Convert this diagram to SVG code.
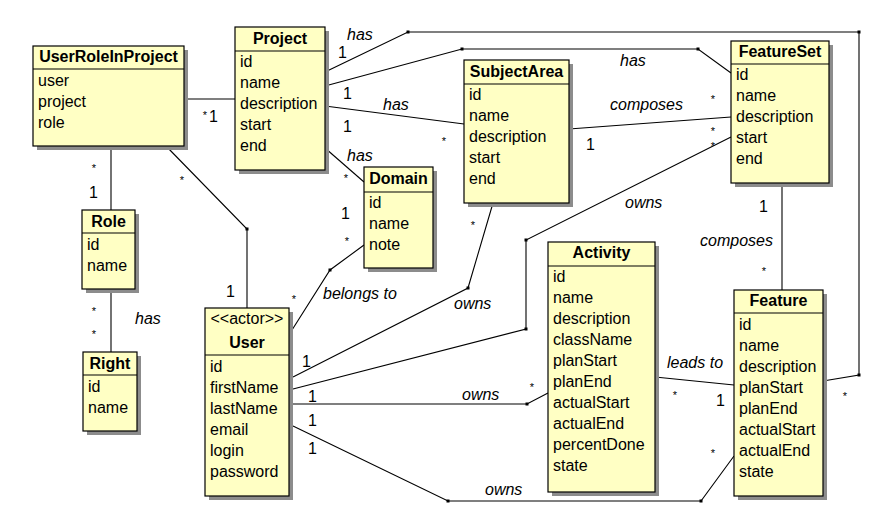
<svg xmlns="http://www.w3.org/2000/svg" width="890" height="524" viewBox="0 0 890 524">
<style>
text{font-family:"Liberation Sans",Arial,sans-serif;font-size:16px;fill:#000}
.t{font-weight:bold;text-anchor:middle}
.l{font-style:italic}
.st{font-size:11px;text-anchor:middle}
.box{fill:#ffffc4;stroke:#000;stroke-width:1.2}
.sh{fill:#8c8c8c}
.hd{stroke:#000;stroke-width:1.2}
.c{fill:none;stroke:#000;stroke-width:1.1}
.d{fill:#000}
</style>
<rect width="890" height="524" fill="#fff"/>
<g id="connectors">
<path class="c" d="M184,99 L235,99"/>
<path class="c" d="M111,146 L111,210"/>
<path class="c" d="M111,289 L111,352"/>
<path class="c" d="M166,146 L247,229 L247,308"/>
<path class="c" d="M325,72 L408,32 L859,32 L859,375 L823,381"/>
<path class="c" d="M325,86 L462,49 L698,49 L731,73"/>
<path class="c" d="M325,106 L464,124"/>
<path class="c" d="M325,148 L364,182"/>
<path class="c" d="M569,129 L731,117"/>
<path class="c" d="M731,137 L526,240 L526,329 L293,389"/>
<path class="c" d="M493,203 L468,288 L293,377"/>
<path class="c" d="M293,404 L527,404 L548,393"/>
<path class="c" d="M293,426 L448,501 L701,501 L734,456"/>
<path class="c" d="M364,245 L330,270 L292,330"/>
<path class="c" d="M782,183 L782,290"/>
<path class="c" d="M655,377 L734,385"/>
<g class="d">
<rect x="245.5" y="227.5" width="3" height="3"/>
<rect x="406.5" y="30.5" width="3" height="3"/>
<rect x="857.5" y="30.5" width="3" height="3"/>
<rect x="857.5" y="373.5" width="3" height="3"/>
<rect x="460.5" y="47.5" width="3" height="3"/>
<rect x="696.5" y="47.5" width="3" height="3"/>
<rect x="524.5" y="238.5" width="3" height="3"/>
<rect x="524.5" y="327.5" width="3" height="3"/>
<rect x="466.5" y="286.5" width="3" height="3"/>
<rect x="525.5" y="402.5" width="3" height="3"/>
<rect x="446.5" y="499.5" width="3" height="3"/>
<rect x="699.5" y="499.5" width="3" height="3"/>
<rect x="328.5" y="268.5" width="3" height="3"/>
</g>
<text class="st" x="205" y="119">*</text><text x="209" y="122">1</text>
<text class="st" x="94" y="172">*</text><text x="89" y="198">1</text>
<text class="st" x="94" y="315">*</text><text class="st" x="94" y="338">*</text><text class="l" x="135" y="324">has</text>
<text class="st" x="182" y="184">*</text><text x="226" y="297">1</text>
<text class="l" x="347" y="40">has</text><text x="338" y="58">1</text>
<text class="l" x="620" y="66">has</text><text x="343" y="99">1</text>
<text class="l" x="383" y="110">has</text><text x="343" y="132">1</text><text class="st" x="444" y="145">*</text>
<text class="l" x="347" y="161">has</text><text class="st" x="346" y="182">*</text>
<text class="l" x="610" y="110">composes</text><text x="586" y="150">1</text><text class="st" x="713" y="103">*</text>
<text class="st" x="713" y="135">*</text><text class="st" x="713" y="150">*</text>
<text class="l" x="625" y="208">owns</text>
<text class="l" x="454" y="309">owns</text><text class="st" x="473" y="229">*</text>
<text x="302" y="367">1</text>
<text x="308" y="402">1</text><text class="l" x="462" y="400">owns</text><text class="st" x="532" y="391">*</text>
<text x="308" y="426">1</text><text x="308" y="454">1</text>
<text class="l" x="485" y="495">owns</text><text class="st" x="713" y="457">*</text>
<text class="l" x="323" y="299">belongs to</text><text x="341" y="219">1</text><text class="st" x="347" y="245">*</text><text class="st" x="294" y="303">*</text>
<text x="759" y="212">1</text><text class="l" x="700" y="246">composes</text><text class="st" x="764" y="275">*</text>
<text class="l" x="667" y="368">leads to</text><text class="st" x="675" y="399">*</text><text x="716" y="406">1</text>
<text class="st" x="845" y="400">*</text>
</g>
<g id="UserRoleInProject">
<rect class="sh" x="37" y="50" width="151" height="100"/>
<rect class="box" x="33" y="46" width="151" height="100"/>
<line class="hd" x1="33" y1="69" x2="184" y2="69"/>
<text class="t" x="108.5" y="62">UserRoleInProject</text>
<text x="38" y="86">user</text><text x="38" y="107">project</text><text x="38" y="128">role</text>
</g>
<g id="Project">
<rect class="sh" x="239" y="31" width="90" height="143"/>
<rect class="box" x="235" y="27" width="90" height="143"/>
<line class="hd" x1="235" y1="51" x2="325" y2="51"/>
<text class="t" x="280" y="44">Project</text>
<text x="240" y="67">id</text><text x="240" y="88">name</text><text x="240" y="109">description</text><text x="240" y="130">start</text><text x="240" y="151">end</text>
</g>
<g id="SubjectArea">
<rect class="sh" x="468" y="64" width="105" height="143"/>
<rect class="box" x="464" y="60" width="105" height="143"/>
<line class="hd" x1="464" y1="84" x2="569" y2="84"/>
<text class="t" x="516.5" y="77">SubjectArea</text>
<text x="469" y="100">id</text><text x="469" y="121">name</text><text x="469" y="142">description</text><text x="469" y="163">start</text><text x="469" y="184">end</text>
</g>
<g id="Domain">
<rect class="sh" x="368" y="171" width="69" height="101"/>
<rect class="box" x="364" y="167" width="69" height="101"/>
<line class="hd" x1="364" y1="192" x2="433" y2="192"/>
<text class="t" x="398.5" y="184">Domain</text>
<text x="369" y="208">id</text><text x="369" y="229">name</text><text x="369" y="250">note</text>
</g>
<g id="FeatureSet">
<rect class="sh" x="735" y="45" width="98" height="142"/>
<rect class="box" x="731" y="41" width="98" height="142"/>
<line class="hd" x1="731" y1="64" x2="829" y2="64"/>
<text class="t" x="780" y="57">FeatureSet</text>
<text x="736" y="80">id</text><text x="736" y="101">name</text><text x="736" y="122">description</text><text x="736" y="143">start</text><text x="736" y="164">end</text>
</g>
<g id="Role">
<rect class="sh" x="86" y="214" width="53" height="79"/>
<rect class="box" x="82" y="210" width="53" height="79"/>
<line class="hd" x1="82" y1="233" x2="135" y2="233"/>
<text class="t" x="108.5" y="227">Role</text>
<text x="87" y="250">id</text><text x="87" y="271">name</text>
</g>
<g id="Right">
<rect class="sh" x="87" y="356" width="54" height="79"/>
<rect class="box" x="83" y="352" width="54" height="79"/>
<line class="hd" x1="83" y1="375" x2="137" y2="375"/>
<text class="t" x="110" y="369">Right</text>
<text x="88" y="392">id</text><text x="88" y="413">name</text>
</g>
<g id="User">
<rect class="sh" x="209" y="312" width="84" height="188"/>
<rect class="box" x="205" y="308" width="84" height="188"/>
<line class="hd" x1="205" y1="355" x2="289" y2="355"/>
<text x="247" y="324" text-anchor="middle">&lt;&lt;actor&gt;&gt;</text>
<text class="t" x="247" y="348">User</text>
<text x="210" y="372">id</text><text x="210" y="393">firstName</text><text x="210" y="414">lastName</text><text x="210" y="435">email</text><text x="210" y="456">login</text><text x="210" y="477">password</text>
</g>
<g id="Activity">
<rect class="sh" x="552" y="246" width="107" height="250"/>
<rect class="box" x="548" y="242" width="107" height="250"/>
<line class="hd" x1="548" y1="266" x2="655" y2="266"/>
<text class="t" x="601.5" y="258">Activity</text>
<text x="553" y="282">id</text><text x="553" y="303">name</text><text x="553" y="324">description</text><text x="553" y="345">className</text><text x="553" y="366">planStart</text><text x="553" y="387">planEnd</text><text x="553" y="408">actualStart</text><text x="553" y="429">actualEnd</text><text x="553" y="450">percentDone</text><text x="553" y="471">state</text>
</g>
<g id="Feature">
<rect class="sh" x="738" y="294" width="89" height="206"/>
<rect class="box" x="734" y="290" width="89" height="206"/>
<line class="hd" x1="734" y1="313" x2="823" y2="313"/>
<text class="t" x="778.5" y="306">Feature</text>
<text x="739" y="330">id</text><text x="739" y="351">name</text><text x="739" y="372">description</text><text x="739" y="393">planStart</text><text x="739" y="414">planEnd</text><text x="739" y="435">actualStart</text><text x="739" y="456">actualEnd</text><text x="739" y="477">state</text>
</g>
</svg>
